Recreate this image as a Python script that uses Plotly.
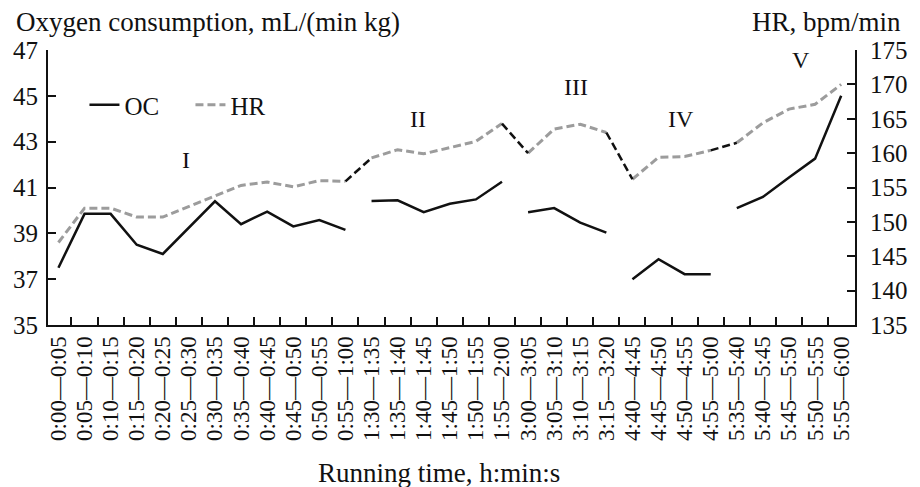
import plotly.graph_objects as go

categories = [
    "0:00—0:05", "0:05—0:10", "0:10—0:15", "0:15—0:20", "0:20—0:25", "0:25—0:30",
    "0:30—0:35", "0:35—0:40", "0:40—0:45", "0:45—0:50", "0:50—0:55", "0:55—1:00",
    "1:30—1:35", "1:35—1:40", "1:40—1:45", "1:45—1:50", "1:50—1:55", "1:55—2:00",
    "3:00—3:05", "3:05—3:10", "3:10—3:15", "3:15—3:20",
    "4:40—4:45", "4:45—4:50", "4:50—4:55", "4:55—5:00",
    "5:35—5:40", "5:40—5:45", "5:45—5:50", "5:50—5:55", "5:55—6:00",
]
phases = ["I"] * 12 + ["II"] * 6 + ["III"] * 4 + ["IV"] * 4 + ["V"] * 5

oc = [37.5, 39.85, 39.85, 38.5, 38.1, 39.25, 40.4, 39.4, 39.95, 39.3, 39.58, 39.15,
      40.41, 40.44, 39.92, 40.29, 40.48, 41.25,
      39.92, 40.1, 39.47, 39.03,
      37.0, 37.87, 37.22, 37.22,
      40.1, 40.59, 41.44, 42.26, 45.0]
hr = [147.0, 152.0, 152.0, 150.7, 150.7, 152.2, 153.7, 155.3, 155.8, 155.1, 156.0, 155.9,
      159.3, 160.5, 159.9, 160.8, 161.7, 164.3,
      160.0, 163.5, 164.2, 163.0,
      156.2, 159.4, 159.5, 160.4,
      161.5, 164.4, 166.4, 167.1, 170.0]

phase_labels = ["I", "II", "III", "IV", "V"]
label_pos_x = [4.9, 13.8, 19.85, 23.85, 28.45]
label_pos_y = [42.2, 44.0, 45.4, 44.0, 46.57]

FONT = "Liberation Serif"
XTICK_SIZE = 23
YTICK_SIZE = 25
TITLE_SIZE = 27
BLACK = "#111111"
GRAY = "#9c9c9c"

fig = go.Figure()

order = []
for p in phases:
    if p not in order:
        order.append(p)

for k, p in enumerate(order):
    idx = [i for i, q in enumerate(phases) if q == p]
    fig.add_trace(go.Scatter(
        x=[categories[i] for i in idx], y=[oc[i] for i in idx],
        mode="lines", line=dict(color=BLACK, width=2.5),
        name="OC", legendgroup="OC", showlegend=(k == 0), yaxis="y"))

for k, p in enumerate(order):
    idx = [i for i, q in enumerate(phases) if q == p]
    fig.add_trace(go.Scatter(
        x=[categories[i] for i in idx], y=[hr[i] for i in idx],
        mode="lines", line=dict(color=GRAY, width=3, dash="8px,4px"),
        name="HR", legendgroup="HR", showlegend=(k == 0), yaxis="y2"))

# black dashed connectors between phases
for k in range(len(order) - 1):
    last = max(i for i, q in enumerate(phases) if q == order[k])
    first = last + 1
    fig.add_trace(go.Scatter(
        x=[categories[last], categories[first]], y=[hr[last], hr[first]],
        mode="lines", line=dict(color=BLACK, width=2.5, dash="8px,4px"),
        showlegend=False, yaxis="y2"))

annotations = []
for lab, xx, yy in zip(phase_labels, label_pos_x, label_pos_y):
    annotations.append(dict(x=xx, y=yy, xref="x", yref="y", text=lab, showarrow=False,
                            font=dict(family=FONT, size=24, color=BLACK)))
annotations += [
    dict(x=(13 - 48) / 819, y=1 + 28 / 275, xref="paper", yref="paper", xanchor="left", yanchor="middle",
         text="Oxygen consumption, mL/(min kg)", showarrow=False,
         font=dict(family=FONT, size=TITLE_SIZE, color=BLACK)),
    dict(x=(916 - 48) / 819, y=1 + 28 / 275, xref="paper", yref="paper", xanchor="right", yanchor="middle",
         text="HR, bpm/min", showarrow=False,
         font=dict(family=FONT, size=TITLE_SIZE, color=BLACK)),
    dict(x=(445 - 48) / 819, y=-(473 - 325) / 275, xref="paper", yref="paper", xanchor="center", yanchor="middle",
         text="Running time, h:min:s", showarrow=False,
         font=dict(family=FONT, size=TITLE_SIZE, color=BLACK)),
]

axis_common = dict(showline=True, linecolor=BLACK, linewidth=2, ticks="inside", ticklen=8,
                   tickwidth=2, tickcolor=BLACK, showgrid=False, zeroline=False)

fig.update_layout(
    width=920, height=487,
    margin=dict(l=48, r=53, t=50, b=162),
    paper_bgcolor="white", plot_bgcolor="white",
    showlegend=True,
    legend=dict(orientation="h", x=(85 - 48) / 819, y=0.80, xanchor="left", yanchor="middle",
                bgcolor="rgba(0,0,0,0)", font=dict(family=FONT, size=YTICK_SIZE, color=BLACK),
                entrywidth=61, entrywidthmode="pixels", itemwidth=30, tracegroupgap=0,
                borderwidth=0),
    xaxis=dict(type="category", categoryorder="array", categoryarray=categories,
               range=[-0.4, 30.53], tickangle=-90, tickson="boundaries",
               tickmode="linear", tick0=0, dtick=1,
               tickfont=dict(family=FONT, size=XTICK_SIZE, color=BLACK), **axis_common),
    yaxis=dict(range=[35, 47], dtick=2, tick0=35, ticklabelstandoff=3,
               tickfont=dict(family=FONT, size=YTICK_SIZE, color=BLACK), **axis_common),
    yaxis2=dict(range=[135, 175], dtick=5, tick0=135, overlaying="y", side="right",
                ticklabelstandoff=8,
                tickfont=dict(family=FONT, size=YTICK_SIZE, color=BLACK), **axis_common),
    annotations=annotations,
)

fig.write_html("out.html")
